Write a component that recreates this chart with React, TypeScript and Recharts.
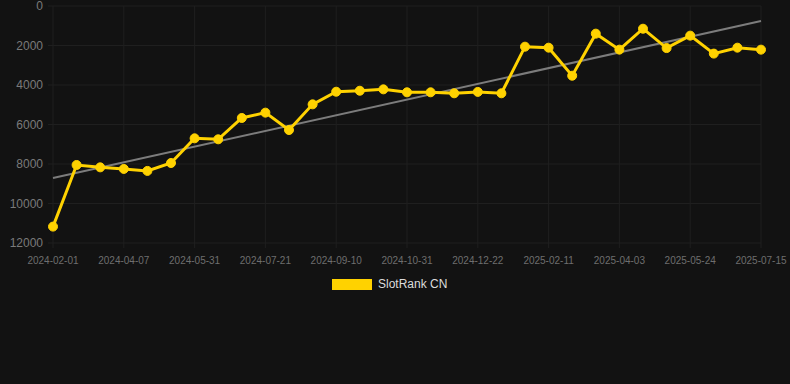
import { LineChart, Line, XAxis, YAxis, CartesianGrid, ReferenceLine } from "recharts";

const dates = [
  "2024-02-01", "2024-02-23", "2024-03-16",
  "2024-04-07", "2024-04-25", "2024-05-13",
  "2024-05-31", "2024-06-17", "2024-07-04",
  "2024-07-21", "2024-08-07", "2024-08-24",
  "2024-09-10", "2024-09-27", "2024-10-14",
  "2024-10-31", "2024-11-17", "2024-12-05",
  "2024-12-22", "2025-01-08", "2025-01-25",
  "2025-02-11", "2025-02-28", "2025-03-17",
  "2025-04-03", "2025-04-20", "2025-05-07",
  "2025-05-24", "2025-06-10", "2025-06-27",
  "2025-07-15",
];

const rank = [
  11170, 8050, 8170, 8250, 8350, 7950, 6700, 6750, 5670, 5400, 6280,
  4980, 4340, 4290, 4220, 4370, 4370, 4420, 4350, 4420, 2060, 2110,
  3530, 1400, 2210, 1150, 2130, 1500, 2410, 2110, 2210,
];

const trendStart = 8710;
const trendEnd = 760;

const yTicks = [0, 2000, 4000, 6000, 8000, 10000, 12000];

const data = dates.map((d, i) => ({ date: d, rank: rank[i] }));

const YELLOW = "#ffd200";
const GRID = "#1f1f1f";
const FONT = "'Liberation Sans', Arial, sans-serif";

export default function App() {
  return (
    <div
      style={{
        position: "absolute",
        left: 0,
        top: 0,
        width: 790,
        height: 384,
        background: "#121212",
        fontFamily: FONT,
      }}
    >
      <LineChart
        width={790}
        height={270}
        data={data}
        margin={{ top: 6, right: 29, left: 0, bottom: 0 }}
      >
        <CartesianGrid stroke={GRID} strokeWidth={1} />
        <XAxis
          dataKey="date"
          interval={2}
          height={27}
          axisLine={false}
          tickLine={{ stroke: GRID }}
          tickSize={5}
          tickMargin={9}
          tick={{ fill: "#6e6e6e", fontSize: 10, fontFamily: FONT }}
        />
        <YAxis
          reversed
          domain={[0, 12000]}
          ticks={yTicks}
          interval={0}
          width={53}
          axisLine={false}
          tickLine={{ stroke: GRID }}
          tickSize={5}
          tickMargin={5}
          tick={{ fill: "#7a7a7a", fontSize: 12, fontFamily: FONT }}
        />
        <ReferenceLine
          segment={[
            { x: dates[0], y: trendStart },
            { x: dates[dates.length - 1], y: trendEnd },
          ]}
          stroke="#7c7c7c"
          strokeWidth={2}
        />
        <Line
          type="linear"
          dataKey="rank"
          stroke={YELLOW}
          strokeWidth={3}
          dot={{ r: 4.5, fill: YELLOW, stroke: YELLOW, strokeWidth: 1 }}
          activeDot={false}
          isAnimationActive={false}
        />
      </LineChart>
      <div
        style={{
          position: "absolute",
          left: 332,
          top: 278,
          display: "flex",
          alignItems: "center",
          gap: 6,
        }}
      >
        <div style={{ width: 40, height: 11, background: YELLOW }} />
        <span style={{ color: "#dcdcdc", fontSize: 12, lineHeight: "12px" }}>SlotRank CN</span>
      </div>
    </div>
  );
}
